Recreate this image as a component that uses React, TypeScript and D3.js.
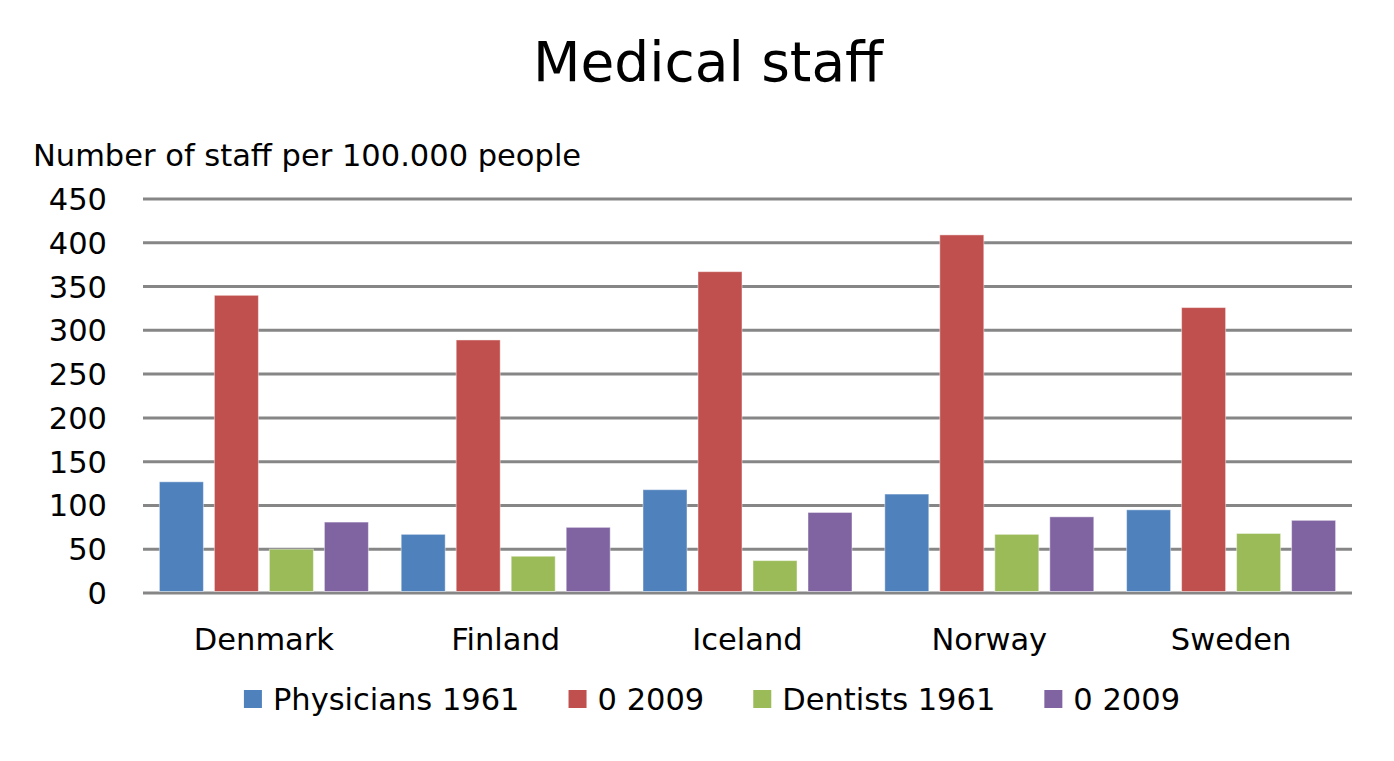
import React, { useEffect, useRef } from "react";
import * as d3 from "d3";

const countries = ["Denmark", "Finland", "Iceland", "Norway", "Sweden"];
const seriesNames = ["Physicians 1961", "0 2009", "Dentists 1961", "0 2009"];
const physicians1961 = [127, 67, 118, 113, 95];
const physicians2009 = [340, 289, 367, 409, 326];
const dentists1961 = [50, 42, 37, 67, 68];
const dentists2009 = [81, 75, 92, 87, 83];
const seriesColors = ["#4F81BD", "#C0504D", "#9BBB59", "#8064A2"];
const yTicks = [0, 50, 100, 150, 200, 250, 300, 350, 400, 450];

const FONT = "'DejaVu Sans', sans-serif";
const FS = 30.5;

export default function App() {
  const ref = useRef<SVGSVGElement | null>(null);

  useEffect(() => {
    const svg = d3.select(ref.current);
    svg.selectAll("*").remove();
    const W = 1394, H = 761;
    const left = 143, right = 1352, top = 199, bottom = 593;
    const seriesValues = [physicians1961, physicians2009, dentists1961, dentists2009];

    const x = d3.scaleBand<string>().domain(countries).range([left, right]).padding(0);
    const groupW = 209;
    const inner = d3
      .scaleBand<number>()
      .domain([0, 1, 2, 3])
      .range([(x.bandwidth() - groupW) / 2, (x.bandwidth() + groupW) / 2])
      .paddingInner(0.2)
      .paddingOuter(0);
    const y = d3.scaleLinear().domain([0, 450]).range([bottom, top]);

    svg.append("rect").attr("width", W).attr("height", H).attr("fill", "#fff");

    // title
    svg.append("text").attr("x", 708).attr("y", 81).attr("text-anchor", "middle")
      .attr("font-family", FONT).attr("font-size", 55).attr("fill", "#000").text("Medical staff");

    // axis title
    svg.append("text").attr("x", 33).attr("y", 166).attr("font-family", FONT)
      .attr("font-size", FS).attr("fill", "#000").text("Number of staff per 100.000 people");

    // grid lines
    svg.append("g").selectAll("line").data(yTicks).join("line")
      .attr("x1", left).attr("x2", right)
      .attr("y1", (d) => y(d)).attr("y2", (d) => y(d))
      .attr("stroke", "#868686").attr("stroke-width", 3);

    // tick labels
    svg.append("g").selectAll("text").data(yTicks).join("text")
      .attr("x", 107).attr("y", (d) => y(d) + 11).attr("text-anchor", "end")
      .attr("font-family", FONT).attr("font-size", FS).attr("fill", "#000")
      .text((d) => String(d));

    // bars
    seriesValues.forEach((vals, si) => {
      svg.append("g").selectAll("rect").data(vals).join("rect")
        .attr("x", (_d, i) => (x(countries[i]) as number) + (inner(si) as number))
        .attr("width", inner.bandwidth())
        .attr("y", (d) => y(d))
        .attr("height", (d) => y(0) - y(d) - 1.5)
        .attr("fill", seriesColors[si])
        .attr("stroke", "#ffffff").attr("stroke-opacity", 0.45).attr("stroke-width", 1);
    });

    // category labels
    svg.append("g").selectAll("text").data(countries).join("text")
      .attr("x", (d) => (x(d) as number) + x.bandwidth() / 2)
      .attr("y", 650).attr("text-anchor", "middle")
      .attr("font-family", FONT).attr("font-size", FS).attr("fill", "#000")
      .text((d) => d);

    // legend
    const lg = svg.append("g");
    const items = lg.selectAll("g").data(seriesNames).join("g");
    items.append("rect").attr("width", 18).attr("height", 18).attr("y", 690)
      .attr("fill", (_d, i) => seriesColors[i]);
    items.append("text").attr("x", 29).attr("y", 710)
      .attr("font-family", FONT).attr("font-size", FS).attr("fill", "#000")
      .text((d) => d);
    const widths: number[] = [];
    items.each(function () {
      const t = (this as SVGGElement).querySelector("text") as SVGTextElement;
      widths.push(29 + t.getComputedTextLength());
    });
    const gap = 49;
    const total = d3.sum(widths) + gap * (widths.length - 1);
    let cx = 712 - total / 2;
    items.attr("transform", (_d, i) => {
      const tx = cx;
      cx += widths[i] + gap;
      return `translate(${tx},0)`;
    });
  }, []);

  return <svg ref={ref} width={1394} height={761} style={{ display: "block", margin: -8 }} />;
}
